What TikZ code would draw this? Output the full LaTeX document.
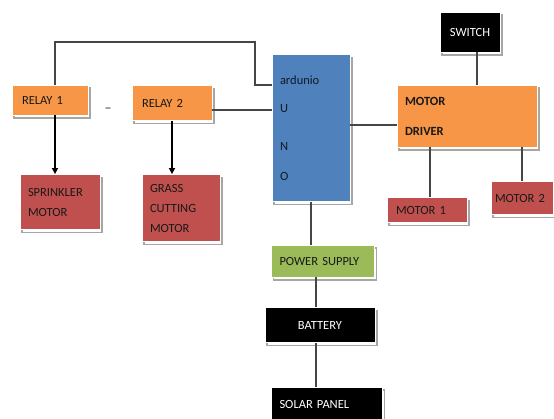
\documentclass[tikz,border=0pt]{standalone}
\usepackage{fontspec}
\setmainfont{Carlito}
\usetikzlibrary{positioning, arrows.meta, calc, shadows}
\definecolor{cO}{RGB}{247,150,70}
\definecolor{cB}{RGB}{79,129,189}
\definecolor{cR}{RGB}{192,80,77}
\definecolor{cG}{RGB}{155,187,89}
\definecolor{cW}{RGB}{70,70,70}

\begin{document}
\begin{tikzpicture}[x=1pt, y=-1pt, font=\fontsize{12.5}{15}\selectfont,
    box/.style={draw=white, line width=0.8pt, inner ysep=0pt, align=left, text=black!90,
                preaction={draw=gray!70, line width=1.6pt, fill=white, transform canvas={xshift=2pt, yshift=-3pt}}},
    wire/.style={draw=cW, line width=1.1pt},
    feed/.style={draw=black, line width=1.6pt, -{Triangle[length=6pt, width=6pt]}}]

    \useasboundingbox[fill=white] (0,0) rectangle (554,419);

    % Left side: relays and their motors
    \node[box, fill=cO, inner xsep=10pt, text width=56pt, minimum height=30pt] (relay1) at (50,100) {RELAY 1};
    \node[box, fill=cO, inner xsep=10pt, text width=60pt, minimum height=35pt] (relay2) at (172,103) {RELAY 2};
    \node[text=black!60, font=\fontsize{14}{16}\selectfont\bfseries] (gap) at (108,110) {--};
    \node[box, fill=cR, inner xsep=8pt, text width=64pt, minimum height=55pt] (sp) at (60,202)
        {SPRINKLER\\[5pt]MOTOR};
    \node[box, fill=cR, inner xsep=8pt, text width=62pt, minimum height=67pt] (gc) at (181,208)
        {GRASS\\[5pt]CUTTING\\[5pt]MOTOR};

    % Controller
    \node[box, fill=cB, inner xsep=8pt, text width=62pt, minimum height=147pt, text=black!80!cB] (ard) at (311,128)
        {ardunio\\[13pt]U\\[23pt]N\\[15pt]O};

    % Right side: driver, switch, motors
    \node[box, fill=black, text=white, align=center, minimum width=60pt, minimum height=40pt] (sw) at (470,32) {SWITCH};
    \node[box, fill=cO, inner xsep=8pt, text width=124pt, minimum height=62pt, font=\fontsize{12.5}{15}\selectfont\bfseries] (drv) at (467,116)
        {MOTOR\\[15pt]DRIVER};
    \node[box, fill=cR, inner xsep=9pt, text width=62pt, minimum height=25pt] (m1) at (427,210) {MOTOR 1};
    \node[box, fill=cR, inner xsep=4pt, text width=54pt, minimum height=33pt] (m2) at (522,198) {MOTOR 2};

    % Supply chain
    \node[box, fill=cG, inner xsep=8pt, text width=87pt, minimum height=32pt] (pwr) at (323,261) {POWER SUPPLY};
    \node[box, fill=black, text=white, align=center, minimum width=110pt, minimum height=35pt] (bat) at (320,325) {BATTERY};
    \node[box, fill=black, text=white, inner xsep=8pt, text width=95pt, minimum height=34pt] (sol) at (327,404) {SOLAR PANEL};

    % Wires
    \coordinate (tl) at (55,42);
    \coordinate (tr) at (255,42);
    \coordinate (jA) at (255,85);
    \draw[wire] (relay1.north -| tl) -- (tl) -- (tr) -- (jA) -- (jA -| ard.west);
    \coordinate (r2out) at ($(relay2.east)+(0,7)$);
    \draw[wire] (r2out) -- (r2out -| ard.west);
    \coordinate (dIn) at ($(drv.west)+(0,9)$);
    \draw[wire] (dIn -| ard.east) -- (dIn);
    \coordinate (swOut) at ($(sw.south)+(7,0)$);
    \draw[wire] (swOut) -- (swOut |- drv.north);
    \draw[wire] ($(m1.north)+(3,0)$) coordinate (m1in) -- (m1in |- drv.south);
    \draw[wire] (m2.north) -- (m2.north |- drv.south);
    \draw[wire] (ard.south) -- (ard.south |- pwr.north);
    \coordinate (pIn) at ($(pwr.south)+(-7,0)$);
    \draw[wire] (pIn) -- (pIn |- bat.north);
    \draw[wire] (pIn |- bat.south) -- (pIn |- sol.north);

    % Relay outputs
    \coordinate (r1out) at ($(relay1.south)+(5,0)$);
    \draw[feed] (r1out) -- (r1out |- sp.north);
    \draw[feed] (relay2.south) -- (relay2.south |- gc.north);

\end{tikzpicture}
\end{document}
